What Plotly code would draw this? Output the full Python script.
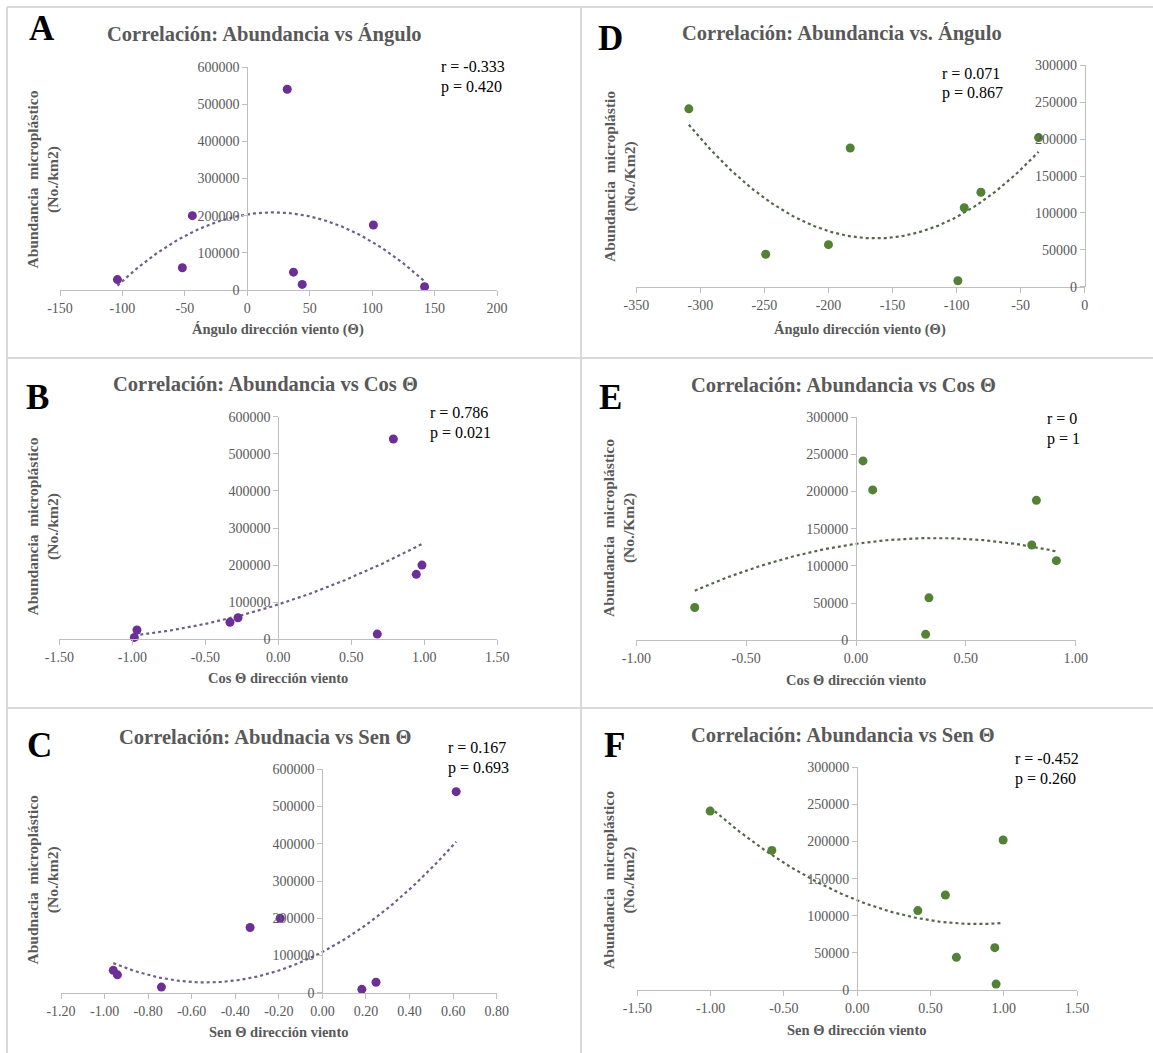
import numpy as np
import plotly.graph_objects as go

W, H = 1153, 1053

# ---------------- data ----------------
# Panel A: abundance vs angle (purple)
a_x = [-104, -52, -44, 32, 37, 44, 101, 142]
a_y = [28000, 60000, 200000, 540000, 48000, 15000, 175000, 9000]
# Panel B: abundance vs cos(theta) (purple)
b_x = [-0.986, -0.968, -0.331, -0.276, 0.678, 0.788, 0.945, 0.984]
b_y = [5000, 25000, 46000, 58000, 14000, 540000, 175000, 200000]
# Panel C: abundance vs sin(theta) (purple)
c_x = [-0.960, -0.941, -0.739, -0.332, -0.194, 0.181, 0.246, 0.614]
c_y = [60000, 48000, 15000, 175000, 200000, 9000, 28000, 540000]
# Panel D: abundance vs angle (green)
d_x = [-309, -249, -200, -183, -99, -94, -81, -36]
d_y = [241000, 44000, 57000, 188000, 8000, 107000, 128000, 202000]
# Panel E: abundance vs cos(theta) (green)
e_x = [-0.734, 0.032, 0.076, 0.317, 0.332, 0.800, 0.821, 0.912]
e_y = [44000, 241000, 202000, 8000, 57000, 128000, 188000, 107000]
# Panel F: abundance vs sin(theta) (green)
f_x = [-1.003, -0.582, 0.414, 0.602, 0.677, 0.939, 0.948, 0.996]
f_y = [241000, 188000, 107000, 128000, 44000, 57000, 8000, 202000]

titles = ["Correlación: Abundancia vs Ángulo", "Correlación: Abundancia vs Cos Θ",
          "Correlación: Abudnacia vs Sen Θ", "Correlación: Abundancia vs. Ángulo",
          "Correlación: Abundancia vs Cos Θ", "Correlación: Abundancia vs Sen Θ"]
letters = ["A", "B", "C", "D", "E", "F"]
r_texts = ["r = -0.333", "r = 0.786", "r = 0.167", "r = 0.071", "r = 0", "r = -0.452"]
p_texts = ["p = 0.420", "p = 0.021", "p = 0.693", "p = 0.867", "p = 1", "p = 0.260"]
x_titles = ["Ángulo dirección viento (Θ)", "Cos Θ dirección viento", "Sen Θ dirección viento",
            "Ángulo dirección viento (Θ)", "Cos Θ dirección viento", "Sen Θ dirección viento"]
y_titles = ["Abundancia\u00a0 microplástico<br>(No./km2)", "Abundancia\u00a0 microplástico<br>(No./km2)",
            "Abudnacia\u00a0 microplástico<br>(No./km2)", "Abundancia\u00a0 microplástio<br>(No./Km2)",
            "Abundancia\u00a0 microplástico<br>(No./Km2)", "Abundancia\u00a0 microplástico<br>(No./km2)"]

x_ticks_a = [-150, -100, -50, 0, 50, 100, 150, 200]
x_ticks_b = [-1.5, -1.0, -0.5, 0.0, 0.5, 1.0, 1.5]
x_ticks_c = [-1.2, -1.0, -0.8, -0.6, -0.4, -0.2, 0.0, 0.2, 0.4, 0.6, 0.8]
x_ticks_d = [-350, -300, -250, -200, -150, -100, -50, 0]
x_ticks_e = [-1.0, -0.5, 0.0, 0.5, 1.0]
x_ticks_f = [-1.5, -1.0, -0.5, 0.0, 0.5, 1.0, 1.5]
y_ticks_600 = [0, 100000, 200000, 300000, 400000, 500000, 600000]
y_ticks_300 = [0, 50000, 100000, 150000, 200000, 250000, 300000]

# ---------------- layout geometry (pixels) ----------------
PURPLE, GREEN = "#6b2f96", "#538135"
TREND_P, TREND_G = "rgba(105,85,125,0.95)", "rgba(75,95,65,0.95)"
SERIF = "Liberation Serif"
GRAY = "#595959"

panels = [
    dict(x=a_x, y=a_y, xt=x_ticks_a, yt=y_ticks_600, fmt="{:.0f}", px=(60, 497), py=(67, 290),
         col=PURPLE, tcol=TREND_P, letter=(42, 29), title=(264, 35), rp=(439, 67), yt_pos=(42.5, 180), xt_pos=(278, 330)),
    dict(x=b_x, y=b_y, xt=x_ticks_b, yt=y_ticks_600, fmt="{:.2f}", px=(59.3, 497.3), py=(416.7, 639.3),
         col=PURPLE, tcol=TREND_P, letter=(37, 397), title=(265, 384), rp=(428, 412), yt_pos=(42.5, 527), xt_pos=(278, 678)),
    dict(x=c_x, y=c_y, xt=x_ticks_c, yt=y_ticks_600, fmt="{:.2f}", px=(61, 496.7), py=(769.3, 992.7),
         col=PURPLE, tcol=TREND_P, letter=(39, 745), title=(265, 737), rp=(446, 747), yt_pos=(42.5, 880), xt_pos=(279, 1032)),
    dict(x=d_x, y=d_y, xt=x_ticks_d, yt=y_ticks_300, fmt="{:.0f}", px=(636.3, 1084.7), py=(65.3, 286.7),
         col=GREEN, tcol=TREND_G, letter=(610, 38), title=(842, 33), rp=(940, 73), yt_pos=(620, 177), xt_pos=(860, 330)),
    dict(x=e_x, y=e_y, xt=x_ticks_e, yt=y_ticks_300, fmt="{:.2f}", px=(636.3, 1075.7), py=(417, 640.3),
         col=GREEN, tcol=TREND_G, letter=(610, 397), title=(843.5, 385), rp=(1045, 418), yt_pos=(619, 528), xt_pos=(856, 680)),
    dict(x=f_x, y=f_y, xt=x_ticks_f, yt=y_ticks_300, fmt="{:.2f}", px=(637.3, 1077), py=(767.3, 990),
         col=GREEN, tcol=TREND_G, letter=(614, 745), title=(843, 735), rp=(1013, 758), yt_pos=(619, 880), xt_pos=(857, 1030)),
]

def fx(p):
    return p / W

def fy(p):
    return 1 - p / H

fig = go.Figure()
annotations = []
shapes = []
layout_axes = {}

for i, pn in enumerate(panels):
    k = i + 1
    xa = "x" if k == 1 else f"x{k}"
    ya = "y" if k == 1 else f"y{k}"
    xmin, xmax = pn["xt"][0], pn["xt"][-1]
    ymax = pn["yt"][-1]

    # trendline: 2nd-order polynomial fit of the data
    coef = np.polyfit(pn["x"], pn["y"], 2)
    xs = np.linspace(min(pn["x"]), max(pn["x"]), 120)
    fig.add_trace(go.Scatter(x=xs, y=np.polyval(coef, xs), mode="lines", xaxis=xa, yaxis=ya,
                             line=dict(color=pn["tcol"], width=2.2, dash="dot"),
                             hoverinfo="skip", showlegend=False, cliponaxis=False))
    fig.add_trace(go.Scatter(x=pn["x"], y=pn["y"], mode="markers", xaxis=xa, yaxis=ya,
                             marker=dict(color=pn["col"], size=9), showlegend=False, cliponaxis=False))

    x0, x1 = pn["px"]
    ytop, ybot = pn["py"]
    tickfont = dict(family=SERIF, size=14, color=GRAY)
    layout_axes["xaxis" if k == 1 else f"xaxis{k}"] = dict(
        domain=[fx(x0), fx(x1)], range=[xmin, xmax], anchor=ya, automargin=False,
        tickvals=pn["xt"], ticktext=[pn["fmt"].format(v) for v in pn["xt"]],
        showline=True, linecolor="#bfbfbf", linewidth=1, ticks="outside", ticklen=5,
        tickcolor="#bfbfbf", showgrid=False, zeroline=False, tickfont=tickfont, fixedrange=True)
    ypos = fx(x0 + (0 - xmin) / (xmax - xmin) * (x1 - x0))
    layout_axes["yaxis" if k == 1 else f"yaxis{k}"] = dict(
        domain=[fy(ybot), fy(ytop)], range=[0, ymax], anchor="free", position=ypos, automargin=False,
        tickvals=pn["yt"], ticktext=[f"{v:d}" for v in pn["yt"]],
        showline=True, linecolor="#bfbfbf", linewidth=1, ticks="outside", ticklen=5,
        tickcolor="#bfbfbf", showgrid=False, zeroline=False, tickfont=tickfont, fixedrange=True)

    # texts
    annotations.append(dict(text=f"<b>{letters[i]}</b>", x=fx(pn["letter"][0]), y=fy(pn["letter"][1]),
                            xref="paper", yref="paper", showarrow=False, xanchor="center", yanchor="middle",
                            font=dict(family=SERIF, size=35, color="black")))
    annotations.append(dict(text=f"<b>{titles[i]}</b>", x=fx(pn["title"][0]), y=fy(pn["title"][1]),
                            xref="paper", yref="paper", showarrow=False, xanchor="center", yanchor="middle",
                            font=dict(family=SERIF, size=20.5, color=GRAY)))
    annotations.append(dict(text=r_texts[i], x=fx(pn["rp"][0]), y=fy(pn["rp"][1]),
                            xref="paper", yref="paper", showarrow=False, xanchor="left", yanchor="middle",
                            font=dict(family=SERIF, size=16, color="black")))
    annotations.append(dict(text=p_texts[i], x=fx(pn["rp"][0]), y=fy(pn["rp"][1] + 20.5),
                            xref="paper", yref="paper", showarrow=False, xanchor="left", yanchor="middle",
                            font=dict(family=SERIF, size=16, color="black")))
    annotations.append(dict(text=f"<b>{x_titles[i]}</b>", x=fx(pn["xt_pos"][0]), y=fy(pn["xt_pos"][1]),
                            xref="paper", yref="paper", showarrow=False, xanchor="center", yanchor="middle",
                            font=dict(family=SERIF, size=14.5, color=GRAY)))
    annotations.append(dict(text=f"<b>{y_titles[i]}</b>", x=fx(pn["yt_pos"][0]), y=fy(pn["yt_pos"][1]),
                            xref="paper", yref="paper", showarrow=False, xanchor="center", yanchor="middle",
                            textangle=-90, font=dict(family=SERIF, size=15.5, color=GRAY)))

# panel frame lines
frame = dict(color="#d9d9d9", width=2)
for (xa0, ya0, xa1, ya1) in [(7, 7, W, 7), (7, 358, W, 358), (7, 708, W, 708), (7, 7, 7, H), (581, 7, 581, H)]:
    shapes.append(dict(type="line", xref="paper", yref="paper", x0=fx(xa0), y0=fy(ya0), x1=fx(xa1), y1=fy(ya1),
                       line=frame, layer="below"))

fig.update_layout(template="none", width=W, height=H, autosize=False,
                  margin=dict(l=0, r=0, t=0, b=0, pad=0, autoexpand=False),
                  paper_bgcolor="white", plot_bgcolor="white", showlegend=False,
                  annotations=annotations, shapes=shapes, **layout_axes)

fix_page = ("document.body.style.margin='0';document.body.style.padding='0';"
            "document.body.style.overflow='hidden';"
            "document.documentElement.style.overflow='hidden';")
fig.write_html("out.html", post_script=fix_page,
               config={"responsive": False, "displayModeBar": False})
